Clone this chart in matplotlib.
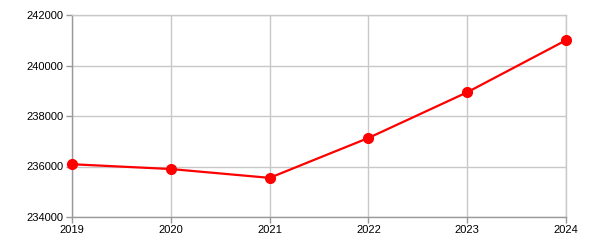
import matplotlib
matplotlib.use('Agg')
import matplotlib.pyplot as plt

# Dados
anos = [2019, 2020, 2021, 2022, 2023, 2024]
populacao = [236090, 235900, 235550, 237130, 238940, 241000]
y_ticks = [234000, 236000, 238000, 240000, 242000]

plt.rcParams['font.family'] = ['Liberation Sans', 'DejaVu Sans']

fig = plt.figure(figsize=(6, 2.5), dpi=100)
ax = fig.add_axes([72 / 600, 33 / 250, 494 / 600, 202 / 250])

ax.plot(anos, populacao, color='#ff0000', linewidth=1.6, marker='o',
        markersize=7, clip_on=False, zorder=3)

ax.set_xlim(2019, 2024)
ax.set_ylim(234000, 242000)
ax.set_xticks(anos)
ax.set_yticks(y_ticks)
ax.set_xticklabels([str(a) for a in anos])
ax.set_yticklabels([str(v) for v in y_ticks])

ax.grid(True, color='#c8c8c8', linewidth=1)
ax.set_axisbelow(True)

for lado in ['top', 'right']:
    ax.spines[lado].set_color('#c8c8c8')
    ax.spines[lado].set_linewidth(1)
for lado in ['left', 'bottom']:
    ax.spines[lado].set_color('#999999')
    ax.spines[lado].set_linewidth(1)

ax.tick_params(axis='both', length=4, width=1, color='#999999',
               labelsize=8, labelcolor='black', pad=2)

fig.savefig('out.png', dpi=100)
